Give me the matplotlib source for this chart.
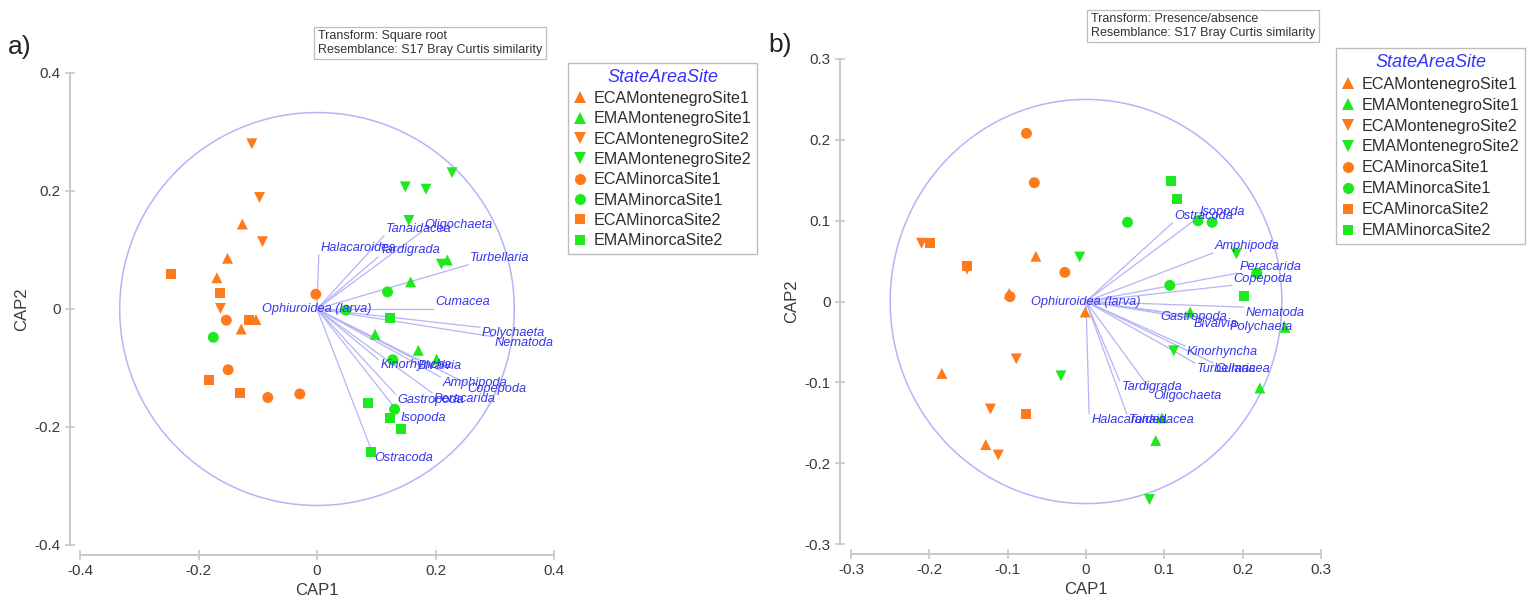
import numpy as np
import matplotlib
matplotlib.use("Agg")
import matplotlib.pyplot as plt
from matplotlib.lines import Line2D

plt.rcParams['font.family'] = ['Liberation Sans', 'DejaVu Sans']

# ---- datos ----
grupos = ['ECAMontenegroSite1', 'EMAMontenegroSite1', 'ECAMontenegroSite2', 'EMAMontenegroSite2',
          'ECAMinorcaSite1', 'EMAMinorcaSite1', 'ECAMinorcaSite2', 'EMAMinorcaSite2']

# panel a) CAP1, CAP2 por grupo
a_x = {
    'ECAMontenegroSite1': [-0.126, -0.151, -0.169, -0.103, -0.128],
    'EMAMontenegroSite1': [0.220, 0.158, 0.098, 0.171, 0.202],
    'ECAMontenegroSite2': [-0.110, -0.097, -0.092, -0.163],
    'EMAMontenegroSite2': [0.149, 0.184, 0.228, 0.155, 0.210],
    'ECAMinorcaSite1': [-0.002, -0.153, -0.150, -0.083, -0.029],
    'EMAMinorcaSite1': [0.119, 0.049, -0.175, 0.128, 0.131],
    'ECAMinorcaSite2': [-0.247, -0.164, -0.114, -0.183, -0.130],
    'EMAMinorcaSite2': [0.123, 0.086, 0.123, 0.142, 0.091],
}
a_y = {
    'ECAMontenegroSite1': [0.144, 0.086, 0.053, -0.018, -0.034],
    'EMAMontenegroSite1': [0.083, 0.046, -0.043, -0.070, -0.085],
    'ECAMontenegroSite2': [0.280, 0.189, 0.114, 0.001],
    'EMAMontenegroSite2': [0.207, 0.203, 0.231, 0.150, 0.076],
    'ECAMinorcaSite1': [0.025, -0.019, -0.103, -0.150, -0.144],
    'EMAMinorcaSite1': [0.029, -0.002, -0.048, -0.086, -0.170],
    'ECAMinorcaSite2': [0.060, 0.027, -0.019, -0.121, -0.142],
    'EMAMinorcaSite2': [-0.016, -0.160, -0.184, -0.203, -0.243],
}

# panel b)
b_x = {
    'ECAMontenegroSite1': [-0.064, -0.098, -0.001, -0.184, -0.128],
    'EMAMontenegroSite1': [0.133, 0.254, 0.222, 0.097, 0.089],
    'ECAMontenegroSite2': [-0.210, -0.152, -0.089, -0.122, -0.112],
    'EMAMontenegroSite2': [-0.008, 0.192, -0.032, 0.112, 0.081],
    'ECAMinorcaSite1': [-0.076, -0.066, -0.027, -0.097],
    'EMAMinorcaSite1': [0.053, 0.143, 0.161, 0.107, 0.218],
    'ECAMinorcaSite2': [-0.199, -0.152, -0.077],
    'EMAMinorcaSite2': [0.109, 0.116, 0.202],
}
b_y = {
    'ECAMontenegroSite1': [0.056, 0.010, -0.013, -0.089, -0.177],
    'EMAMontenegroSite1': [-0.013, -0.032, -0.107, -0.144, -0.172],
    'ECAMontenegroSite2': [0.072, 0.040, -0.071, -0.133, -0.190],
    'EMAMontenegroSite2': [0.055, 0.059, -0.092, -0.061, -0.245],
    'ECAMinorcaSite1': [0.208, 0.147, 0.036, 0.006],
    'EMAMinorcaSite1': [0.098, 0.100, 0.098, 0.020, 0.035],
    'ECAMinorcaSite2': [0.072, 0.044, -0.139],
    'EMAMinorcaSite2': [0.149, 0.127, 0.007],
}

# vectores (taxones)
a_taxa = ['Halacaroidea', 'Tanaidacea', 'Oligochaeta', 'Tardigrada', 'Turbellaria', 'Cumacea',
          'Polychaeta', 'Nematoda', 'Kinorhyncha', 'Bivalvia', 'Amphipoda', 'Copepoda',
          'Gastropoda', 'Peracarida', 'Isopoda', 'Ostracoda', 'Ophiuroidea (larva)']
a_vx = [0.003, 0.113, 0.177, 0.103, 0.255, 0.196, 0.275, 0.297, 0.103, 0.167, 0.208, 0.250,
        0.132, 0.194, 0.137, 0.093, 0.0]
a_vy = [0.092, 0.124, 0.131, 0.088, 0.075, 0.0, -0.031, -0.047, -0.085, -0.086, -0.115, -0.125,
        -0.144, -0.142, -0.175, -0.242, 0.0]

b_taxa = ['Ostracoda', 'Isopoda', 'Amphipoda', 'Peracarida', 'Copepoda', 'Nematoda', 'Polychaeta',
          'Bivalvia', 'Gastropoda', 'Kinorhyncha', 'Turbellaria', 'Cumacea', 'Tardigrada',
          'Oligochaeta', 'Halacaroidea', 'Tanaidacea', 'Ophiuroidea (larva)']
b_vx = [0.110, 0.142, 0.162, 0.193, 0.186, 0.201, 0.181, 0.135, 0.092, 0.126, 0.139, 0.162,
        0.043, 0.083, 0.004, 0.052, 0.0]
b_vy = [0.097, 0.103, 0.060, 0.035, 0.020, -0.007, -0.024, -0.021, -0.012, -0.055, -0.076, -0.076,
        -0.098, -0.110, -0.139, -0.139, 0.0]

a_radio = 0.333
b_radio = 0.25
a_ticks = [-0.4, -0.2, 0, 0.2, 0.4]
a_ticklabels = ['-0.4', '-0.2', '0', '0.2', '0.4']
b_ticks = [-0.3, -0.2, -0.1, 0, 0.1, 0.2, 0.3]
b_ticklabels = ['-0.3', '-0.2', '-0.1', '0', '0.1', '0.2', '0.3']

# ---- estilos ----
naranja = '#FF7A1C'
verde = '#1EE81E'
colores = {g: (naranja if g.startswith('ECA') else verde) for g in grupos}
marcas = {'ECAMontenegroSite1': '^', 'EMAMontenegroSite1': '^',
          'ECAMontenegroSite2': 'v', 'EMAMontenegroSite2': 'v',
          'ECAMinorcaSite1': 'o', 'EMAMinorcaSite1': 'o',
          'ECAMinorcaSite2': 's', 'EMAMinorcaSite2': 's'}
azul_txt = '#3535F0'
azul_lin = '#B4B4F8'
gris = '#C8C8C8'
fs_vec = 9.2

W, H = 1533, 602
fig = plt.figure(figsize=(W / 100, H / 100), dpi=100)


def px_axes(l, t, r, b):
    return fig.add_axes([l / W, 1 - b / H, (r - l) / W, (b - t) / H])


def panel(ax, xs, ys, vx, vy, taxa, radio, ticks, ticklabels, lim, off_left):
    t = np.linspace(0, 2 * np.pi, 400)
    ax.plot(radio * np.cos(t), radio * np.sin(t), color=azul_lin, lw=1.1, zorder=1)
    for x, y in zip(vx, vy):
        ax.plot([0, x], [0, y], color=azul_lin, lw=0.9, zorder=2)
    for g in grupos:
        ax.scatter(xs[g], ys[g], marker=marcas[g], s=62 if marcas[g] != 's' else 52,
                   color=colores[g], edgecolors='none', zorder=3)
    for nombre, x, y in zip(taxa, vx, vy):
        if nombre.startswith('Ophiuroidea'):
            ax.annotate(nombre, (x, y), ha='center', va='center', color=azul_txt,
                        fontsize=fs_vec, style='italic', zorder=4)
        elif y >= 0:
            ax.annotate(nombre, (x, y), xytext=(1.5, 0.5), textcoords='offset points',
                        ha='left', va='bottom', color=azul_txt, fontsize=fs_vec, style='italic', zorder=4)
        else:
            ax.annotate(nombre, (x, y), xytext=(1.5, 0), textcoords='offset points',
                        ha='left', va='top', color=azul_txt, fontsize=fs_vec, style='italic', zorder=4)
    ax.set_xlim(-lim, lim)
    ax.set_ylim(-lim, lim)
    ax.set_xticks(ticks)
    ax.set_xticklabels(ticklabels)
    ax.set_yticks(ticks)
    ax.set_yticklabels(ticklabels)
    for s in ['top', 'right']:
        ax.spines[s].set_visible(False)
    ax.spines['left'].set_position(('outward', off_left))
    ax.spines['bottom'].set_position(('outward', 7.5))
    for s in ['left', 'bottom']:
        ax.spines[s].set_color(gris)
        ax.spines[s].set_linewidth(1.4)
    ax.tick_params(direction='inout', length=7, width=1.2, color=gris, labelcolor='#3A3A3A',
                   labelsize=11, pad=3)
    ax.set_xlabel('CAP1', fontsize=12, color='#3A3A3A', labelpad=3)
    ax.set_ylabel('CAP2', fontsize=12, color='#3A3A3A', labelpad=4)
    ax.patch.set_alpha(0)


ax1 = px_axes(80, 73, 554, 545)
panel(ax1, a_x, a_y, a_vx, a_vy, a_taxa, a_radio, a_ticks, a_ticklabels, 0.4, 7.5)
ax2 = px_axes(851, 59, 1321, 544)
panel(ax2, b_x, b_y, b_vx, b_vy, b_taxa, b_radio, b_ticks, b_ticklabels, 0.3, 8)

# etiquetas de panel
fig.text(8 / W, 1 - 47 / H, 'a)', fontsize=19, va='center', ha='left', color='#222222')
fig.text(768 / W, 1 - 45 / H, 'b)', fontsize=19, va='center', ha='left', color='#222222')

# cajas de transformacion
caja = dict(boxstyle='square,pad=0.3', fc='white', ec='#BDBDBD', lw=0.9)
fig.text(318 / W, 1 - 43 / H, 'Transform: Square root\nResemblance: S17 Bray Curtis similarity',
         fontsize=9, va='center', ha='left', color='#333333', linespacing=1.12, bbox=caja)
fig.text(1091 / W, 1 - 26 / H, 'Transform: Presence/absence\nResemblance: S17 Bray Curtis similarity',
         fontsize=9, va='center', ha='left', color='#333333', linespacing=1.12, bbox=caja)

# leyendas
handles = [Line2D([], [], ls='none', marker=marcas[g], color=colores[g],
                  markersize=8 if marcas[g] != 's' else 7, markeredgewidth=0) for g in grupos]
for lx, ly, esp in [(568, 63, 0.33), (1336, 48, 0.37)]:
    leg = fig.legend(handles, grupos, loc='upper left', bbox_to_anchor=(lx / W, 1 - ly / H),
                     borderaxespad=0, fontsize=11.6, title='StateAreaSite',
                     handlelength=0.8, handletextpad=0.45, labelspacing=esp,
                     borderpad=0.35, fancybox=False, edgecolor='#BDBDBD', framealpha=1)
    leg.get_title().set_color('#3333FF')
    leg.get_title().set_fontstyle('italic')
    leg.get_title().set_fontsize(13)
    leg.get_frame().set_linewidth(1.0)
    for txt in leg.get_texts():
        txt.set_color('#2E2E2E')

fig.savefig('out.png', dpi=100)
